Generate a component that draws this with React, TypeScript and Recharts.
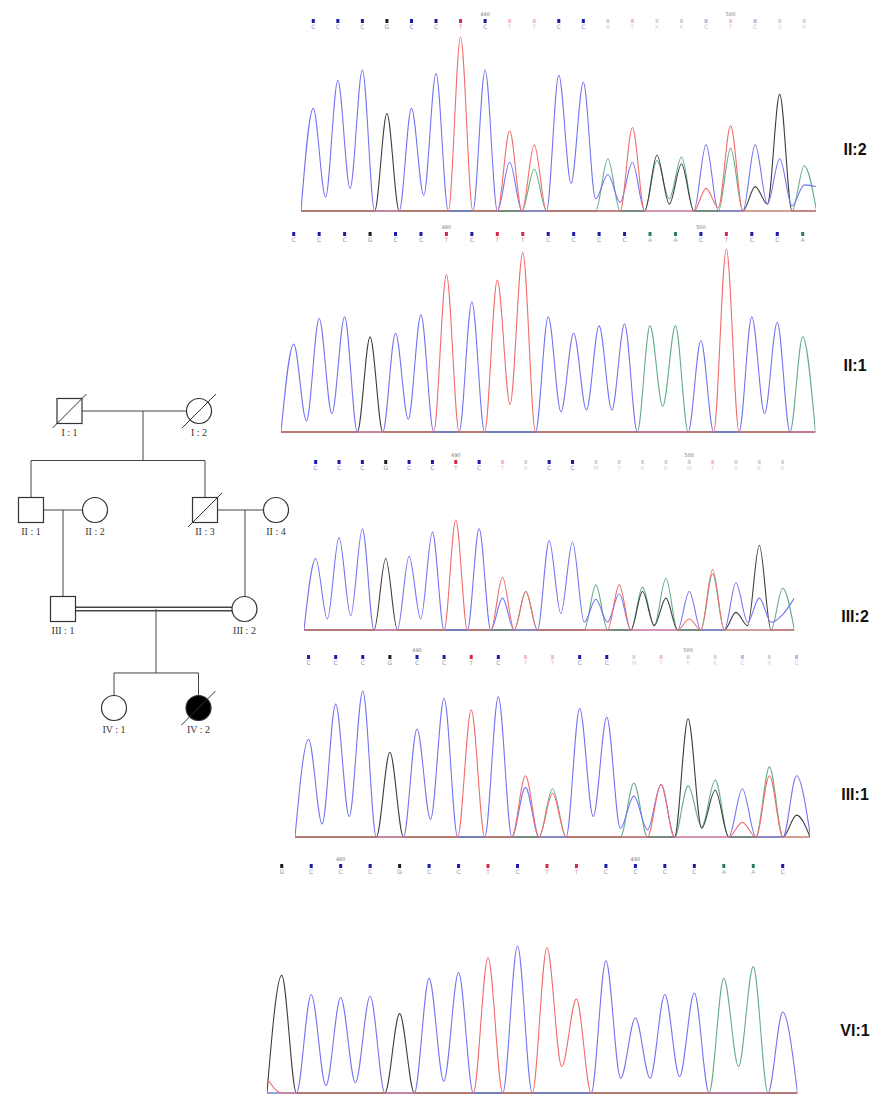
import { ComposedChart, Line, Scatter, ScatterChart, XAxis, YAxis, ReferenceLine } from 'recharts'

type Channel = 'C' | 'G' | 'T' | 'A'
type Dips = Record<number, number>

// base calls: upper case = clear call, lower case = weak call
const ii2Bases = 'CCCGCCTCttCCatkkctcsr'.split('')
const ii2Marks: Record<number, string> = { 7: '490', 17: '500' }
const ii2C = [0.59, 0.75, 0.81, 0, 0.59, 0.79, 0, 0.81, 0.28, 0, 0.78, 0.74, 0.21, 0.28, 0, 0, 0.38, 0, 0.38, 0.3, 0.15]
const ii2G = [0, 0, 0, 0.56, 0, 0, 0, 0, 0, 0, 0, 0, 0, 0, 0.32, 0.27, 0, 0, 0.14, 0.67, 0]
const ii2T = [0, 0, 0, 0, 0, 0, 1, 0, 0.46, 0.38, 0, 0, 0, 0.48, 0, 0, 0.13, 0.49, 0, 0, 0]
const ii2A = [0, 0, 0, 0, 0, 0, 0, 0, 0, 0.24, 0, 0, 0.3, 0, 0.29, 0.31, 0, 0.36, 0, 0, 0.26]
const ii2CDips: Dips = { 0: 0.08, 1: 0.13, 4: 0.09, 10: 0.16, 11: 0.07, 12: 0.05, 18: 0.04, 19: 0.03, 20: 0.14 }
const ii2GDips: Dips = { 14: 0.04, 18: 0.04 }
const ii2TDips: Dips = { 16: 0.02 }
const ii2ADips: Dips = { 14: 0.07 }

const ii1Bases = 'CCCGCCTCTTCCCCAACTCCA'.split('')
const ii1Marks: Record<number, string> = { 6: '490', 16: '500' }
const ii1C = [0.48, 0.62, 0.63, 0, 0.54, 0.64, 0, 0.71, 0, 0, 0.63, 0.54, 0.58, 0.59, 0, 0, 0.5, 0, 0.63, 0.6, 0]
const ii1G = [0, 0, 0, 0.52, 0, 0, 0, 0, 0, 0, 0, 0, 0, 0, 0, 0, 0, 0, 0, 0, 0]
const ii1T = [0, 0, 0, 0, 0, 0, 0.86, 0, 0.83, 0.98, 0, 0, 0, 0, 0, 0, 0, 1, 0, 0, 0]
const ii1A = [0, 0, 0, 0, 0, 0, 0, 0, 0, 0, 0, 0, 0, 0, 0.58, 0.58, 0, 0, 0, 0, 0.52]
const ii1CDips: Dips = { 0: 0.06, 1: 0.1, 4: 0.07, 10: 0.11, 11: 0.12, 12: 0.12, 18: 0.1 }
const ii1GDips: Dips = {}
const ii1TDips: Dips = { 8: 0.15 }
const ii1ADips: Dips = { 14: 0.14 }

const iii2Bases = 'CCCGCCTCtrCCmykrmtskr'.split('')
const iii2Marks: Record<number, string> = { 6: '490', 16: '500' }
const iii2C = [0.65, 0.84, 0.92, 0, 0.67, 0.89, 0, 0.92, 0.29, 0, 0.81, 0.8, 0.28, 0.33, 0, 0, 0.35, 0, 0.43, 0.29, 0.14]
const iii2G = [0, 0, 0, 0.65, 0, 0, 0, 0, 0, 0, 0, 0, 0, 0, 0.35, 0.29, 0, 0, 0.16, 0.77, 0]
const iii2T = [0, 0, 0, 0, 0, 0, 1, 0, 0.48, 0.35, 0, 0, 0, 0.41, 0, 0, 0.1, 0.55, 0, 0, 0]
const iii2A = [0, 0, 0, 0, 0, 0, 0, 0, 0, 0.35, 0, 0, 0.41, 0, 0.39, 0.47, 0, 0.51, 0, 0, 0.38]
const iii2CDips: Dips = { 0: 0.1, 1: 0.13, 4: 0.1, 10: 0.15, 11: 0.07, 12: 0.07, 18: 0.07, 19: 0.07, 20: 0.29 }
const iii2GDips: Dips = { 14: 0.04, 18: 0.04 }
const iii2TDips: Dips = {}
const iii2ADips: Dips = { 14: 0.04 }

const iii1Bases = 'CCCGCCTCttCCmtkkcrc'.split('')
const iii1Marks: Record<number, string> = { 4: '490', 14: '500' }
const iii1C = [0.67, 0.91, 1, 0, 0.74, 0.95, 0, 0.96, 0.34, 0, 0.88, 0.82, 0.28, 0.36, 0, 0, 0.33, 0, 0.42]
const iii1G = [0, 0, 0, 0.58, 0, 0, 0, 0, 0, 0, 0, 0, 0, 0, 0.81, 0.32, 0, 0, 0.15]
const iii1T = [0, 0, 0, 0, 0, 0, 0.87, 0, 0.42, 0.3, 0, 0, 0, 0.36, 0, 0, 0.1, 0.42, 0]
const iii1A = [0, 0, 0, 0, 0, 0, 0, 0, 0, 0.33, 0, 0, 0.37, 0, 0.35, 0.39, 0, 0.48, 0]
const iii1CDips: Dips = { 0: 0.09, 1: 0.14, 4: 0.12, 10: 0.14, 11: 0.06, 12: 0.05, 18: 0.02 }
const iii1GDips: Dips = { 14: 0.06 }
const iii1TDips: Dips = {}
const iii1ADips: Dips = { 14: 0.07 }

const vi1Bases = 'GCCCGCCTCTTCCCCAAC'.split('')
const vi1Marks: Record<number, string> = { 2: '480', 12: '490' }
const vi1C = [0, 0.67, 0.65, 0.66, 0, 0.78, 0.82, 0, 1, 0, 0, 0.9, 0.51, 0.67, 0.68, 0, 0, 0.55]
const vi1G = [0.8, 0, 0, 0, 0.54, 0, 0, 0, 0, 0, 0, 0, 0, 0, 0, 0, 0, 0]
const vi1T = [0, 0, 0, 0, 0, 0, 0, 0.92, 0, 0.99, 0.64, 0, 0, 0, 0, 0, 0, 0]
const vi1A = [0, 0, 0, 0, 0, 0, 0, 0, 0, 0, 0, 0, 0, 0, 0, 0.78, 0.86, 0]
const vi1CDips: Dips = { 1: 0.05, 2: 0.07, 5: 0.08, 11: 0.1, 12: 0.1, 13: 0.11 }
const vi1GDips: Dips = {}
const vi1TDips: Dips = { [-1]: 0.1, 9: 0.18 }
const vi1ADips: Dips = { 15: 0.18 }

// pedigree
const people = [
    { id: 'I : 1', x: 69.5, gen: 1, sex: 'M', dead: true, affected: false },
    { id: 'I : 2', x: 199, gen: 1, sex: 'F', dead: true, affected: false },
    { id: 'II : 1', x: 31, gen: 2, sex: 'M', dead: false, affected: false },
    { id: 'II : 2', x: 95, gen: 2, sex: 'F', dead: false, affected: false },
    { id: 'II : 3', x: 205, gen: 2, sex: 'M', dead: true, affected: false },
    { id: 'II : 4', x: 276, gen: 2, sex: 'F', dead: false, affected: false },
    { id: 'III : 1', x: 63, gen: 3, sex: 'M', dead: false, affected: false },
    { id: 'III : 2', x: 244.5, gen: 3, sex: 'F', dead: false, affected: false },
    { id: 'IV : 1', x: 114, gen: 4, sex: 'F', dead: false, affected: false },
    { id: 'IV : 2', x: 198.5, gen: 4, sex: 'F', dead: true, affected: true },
]
const families = [
    { parents: ['I : 1', 'I : 2'], drop: 143, sibship: 0.5, children: ['II : 1', 'II : 3'], consanguineous: false },
    { parents: ['II : 1', 'II : 2'], drop: 63, sibship: 0, children: ['III : 1'], consanguineous: false },
    { parents: ['II : 3', 'II : 4'], drop: 245, sibship: 0, children: ['III : 2'], consanguineous: false },
    { parents: ['III : 1', 'III : 2'], drop: 156, sibship: 0.646, children: ['IV : 1', 'IV : 2'], consanguineous: true },
]

const CHANNELS: Channel[] = ['A', 'G', 'C', 'T']
const traceColors: Record<Channel, string> = { C: '#7474f2', G: '#3e3e3e', T: '#f26c6c', A: '#66ac88' }
const callColors: Record<string, string> = { C: '#1c1ca6', G: '#1e1e1e', T: '#d42848', A: '#2c8058' }

interface Panel {
    name: string
    bases: string[]
    marks: Record<number, string>
    peaks: Record<Channel, number[]>
    dips: Record<Channel, Dips>
    firstX: number
    lastX: number
    baseline: number
    top: number
    callY: number
    labelY: number
}

const panels: Panel[] = [
    {
        name: 'II:2', bases: ii2Bases, marks: ii2Marks,
        peaks: { C: ii2C, G: ii2G, T: ii2T, A: ii2A },
        dips: { C: ii2CDips, G: ii2GDips, T: ii2TDips, A: ii2ADips },
        firstX: 313, lastX: 804, baseline: 211, top: 37, callY: 21, labelY: 150,
    },
    {
        name: 'II:1', bases: ii1Bases, marks: ii1Marks,
        peaks: { C: ii1C, G: ii1G, T: ii1T, A: ii1A },
        dips: { C: ii1CDips, G: ii1GDips, T: ii1TDips, A: ii1ADips },
        firstX: 294, lastX: 803, baseline: 432, top: 249, callY: 234, labelY: 366,
    },
    {
        name: 'III:2', bases: iii2Bases, marks: iii2Marks,
        peaks: { C: iii2C, G: iii2G, T: iii2T, A: iii2A },
        dips: { C: iii2CDips, G: iii2GDips, T: iii2TDips, A: iii2ADips },
        firstX: 316, lastX: 783, baseline: 630, top: 520, callY: 462, labelY: 617,
    },
    {
        name: 'III:1', bases: iii1Bases, marks: iii1Marks,
        peaks: { C: iii1C, G: iii1G, T: iii1T, A: iii1A },
        dips: { C: iii1CDips, G: iii1GDips, T: iii1TDips, A: iii1ADips },
        firstX: 309, lastX: 797, baseline: 837, top: 691, callY: 657, labelY: 795,
    },
    {
        name: 'VI:1', bases: vi1Bases, marks: vi1Marks,
        peaks: { C: vi1C, G: vi1G, T: vi1T, A: vi1A },
        dips: { C: vi1CDips, G: vi1GDips, T: vi1TDips, A: vi1ADips },
        firstX: 282, lastX: 783, baseline: 1093, top: 946, callY: 866, labelY: 1031,
    },
]

function traceRows(p: Panel) {
    const n = p.bases.length
    const rows: Record<string, number>[] = []
    for (let k = -1; k < 2 * n; k++) {
        const row: Record<string, number> = { x: k / 2 }
        for (const ch of CHANNELS) {
            row[ch] = k >= 0 && k % 2 === 0 ? p.peaks[ch][k / 2] : p.dips[ch][(k - 1) / 2] ?? 0
        }
        rows.push(row)
    }
    return rows
}

function CallMark(props: any) {
    const { cx, cy, payload } = props
    const upper = payload.base.toUpperCase()
    const faint = payload.base !== upper
    const color = callColors[upper] ?? '#777'
    return (
        <g fontFamily="'DejaVu Sans', sans-serif">
            {payload.mark && (
                <text x={cx} y={cy - 5} textAnchor="middle" fontSize={5} fill="#777">{payload.mark}</text>
            )}
            <rect x={cx - 1.5} y={cy - 2} width={3} height={4} fill={color} opacity={faint ? 0.3 : 1} />
            <text x={cx} y={cy + 8} textAnchor="middle" fontSize={6} fill={color} opacity={faint ? 0.3 : 0.55}>
                {upper}
            </text>
        </g>
    )
}

function Chromatogram({ panel }: { panel: Panel }) {
    const n = panel.bases.length
    const step = (panel.lastX - panel.firstX) / (n - 1)
    const left = panel.firstX - step / 2
    const width = step * n
    const chartTop = panel.callY - 14
    const chartBottom = panel.baseline + 3
    const unit = panel.baseline - panel.top
    const yMax = (panel.baseline - chartTop) / unit
    const yMin = -(chartBottom - panel.baseline) / unit
    const callLevel = (panel.baseline - panel.callY) / unit
    const rows = traceRows(panel)
    const calls = panel.bases.map((base, i) => ({ x: i, y: callLevel, base, mark: panel.marks[i] }))

    return (
        <>
            <div style={{ position: 'absolute', left, top: chartTop }}>
                <ComposedChart width={width} height={chartBottom - chartTop} data={rows}
                    margin={{ top: 0, right: 0, bottom: 0, left: 0 }}>
                    <XAxis type="number" dataKey="x" domain={[-0.5, n - 0.5]} hide allowDataOverflow />
                    <YAxis type="number" domain={[yMin, yMax]} hide allowDataOverflow />
                    {CHANNELS.map(ch => (
                        <Line key={ch} type="monotone" dataKey={ch} stroke={traceColors[ch]} strokeWidth={1.1}
                            dot={false} activeDot={false} isAnimationActive={false} />
                    ))}
                    <Scatter data={calls} dataKey="y" shape={CallMark} isAnimationActive={false} />
                </ComposedChart>
            </div>
            <div style={{
                position: 'absolute', left: 826, width: 58, top: panel.labelY - 10, textAlign: 'center',
                fontFamily: "'Liberation Sans', Arial, sans-serif", fontWeight: 700, fontSize: 16, lineHeight: '20px',
                color: '#111',
            }}>
                {panel.name}
            </div>
        </>
    )
}

const GEN_PX = 99
const HALF = 12.5

function Person(props: any) {
    const { cx, cy, payload } = props
    const fill = payload.affected ? '#000' : '#fff'
    return (
        <g>
            {payload.sex === 'M'
                ? <rect x={cx - HALF} y={cy - HALF} width={2 * HALF} height={2 * HALF} fill={fill} stroke="#333" strokeWidth={1.2} />
                : <circle cx={cx} cy={cy} r={HALF} fill={fill} stroke="#333" strokeWidth={1.2} />}
            {payload.dead && (
                <line x1={cx - 17} y1={cy + 17} x2={cx + 17} y2={cy - 17} stroke="#333" strokeWidth={1} />
            )}
            <text x={cx} y={cy + 25} textAnchor="middle" fontFamily="'Liberation Serif', 'Times New Roman', serif"
                fontSize={10} fill="#333">
                {payload.id}
            </text>
        </g>
    )
}

function pedigreeLines() {
    const byId = Object.fromEntries(people.map(p => [p.id, p]))
    const half = HALF / GEN_PX
    const segs: { pts: { x: number; y: number }[]; heavy: boolean }[] = []
    for (const f of families) {
        const a = byId[f.parents[0]]
        const b = byId[f.parents[1]]
        const y = a.gen
        const offsets = f.consanguineous ? [-0.017, 0.017] : [0]
        offsets.forEach(o => segs.push({
            pts: [{ x: a.x + HALF, y: y + o }, { x: b.x - HALF, y: y + o }],
            heavy: f.consanguineous,
        }))
        const kids = f.children.map(id => byId[id])
        const kidTop = kids[0].gen - half
        if (kids.length === 1) {
            segs.push({ pts: [{ x: f.drop, y }, { x: f.drop, y: kidTop }], heavy: false })
        } else {
            const bar = y + f.sibship
            const xs = kids.map(k => k.x)
            segs.push({ pts: [{ x: f.drop, y }, { x: f.drop, y: bar }], heavy: false })
            segs.push({ pts: [{ x: Math.min(...xs), y: bar }, { x: Math.max(...xs), y: bar }], heavy: false })
            kids.forEach(k => segs.push({ pts: [{ x: k.x, y: bar }, { x: k.x, y: kidTop }], heavy: false }))
        }
    }
    return segs
}

function Pedigree() {
    const top = 380
    const height = 380
    const firstGenY = 411
    const genTop = 1 - (firstGenY - top) / GEN_PX
    const genBottom = 1 + (top + height - firstGenY) / GEN_PX
    const segs = pedigreeLines()
    return (
        <div style={{ position: 'absolute', left: 0, top }}>
            <ScatterChart width={300} height={height} margin={{ top: 0, right: 0, bottom: 0, left: 0 }}>
                <XAxis type="number" dataKey="x" domain={[0, 300]} hide allowDataOverflow />
                <YAxis type="number" dataKey="gen" domain={[genTop, genBottom]} reversed hide allowDataOverflow />
                {segs.map((s, i) => (
                    <ReferenceLine key={i} segment={s.pts} stroke="#444" strokeWidth={s.heavy ? 1.6 : 1}
                        ifOverflow="visible" />
                ))}
                <Scatter data={people} shape={Person} isAnimationActive={false} />
            </ScatterChart>
        </div>
    )
}

export default function App() {
    return (
        <div style={{ position: 'absolute', left: 0, top: 0, width: 874, height: 1098, background: '#fff', overflow: 'hidden' }}>
            <Pedigree />
            {panels.map(p => <Chromatogram key={p.name} panel={p} />)}
        </div>
    )
}
